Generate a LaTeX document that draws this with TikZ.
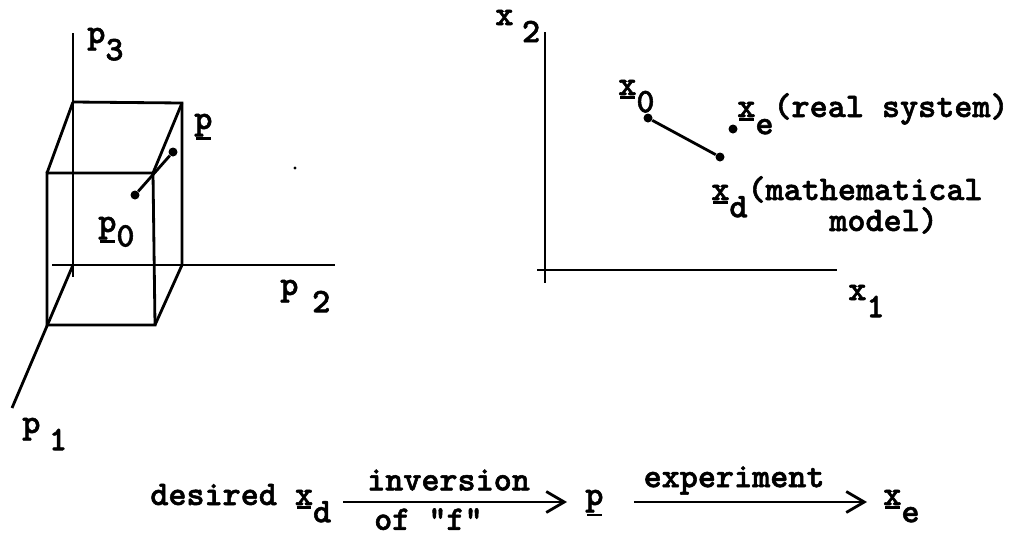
\documentclass[tikz,border=0pt]{standalone}
\usepackage{fontspec}
\newfontfamily\typewr{lmmonolt10-bold.otf}[FakeBold=1.6]
\usetikzlibrary{arrows.meta}
% underlined vector letter and typewriter style lowered index
\newcommand{\uvec}[1]{\setbox0\hbox{#1}\rlap{\kern0.05em\rule[\dimexpr-\dp0-2pt\relax]{\dimexpr\wd0-0.1em\relax}{1.4pt}}\box0}
\newcommand{\lowsub}[2][0.5em]{\raisebox{-#1}{#2}}
\tikzset{
  ax/.style={line width=1.6pt},
  edge/.style={line width=1.6pt},
  dot/.style={circle,fill,inner sep=0pt,minimum size=0.18cm},
  lbl/.style={font=\fontsize{19.6}{23}\typewr,inner sep=0pt,anchor=base west},
  albl/.style={font=\fontsize{19.6}{23}\typewr,inner sep=0.2cm},
  arr/.style={-{Straight Barb[length=0.36cm,width=0.42cm]},line width=1.6pt},
}
\begin{document}
\begin{tikzpicture}[x=0.02cm,y=-0.02cm]
  \useasboundingbox (0,0) rectangle (1021,538);
  % parameter space with the box
  \coordinate (o) at (73,265);
  \coordinate (b1) at (73,102);
  \coordinate (b2) at (182,103);
  \coordinate (b3) at (182,265);
  \coordinate (f1) at (47,173);
  \coordinate (f2) at (153,173);
  \coordinate (f3) at (155,325);
  \coordinate (f4) at (47,325);
  \draw[ax] (73,33) -- (73,277);
  \draw[ax] (52,265) -- (335,265);
  \draw[ax] (o) -- (12,408);
  \draw[edge] (b1) -- (b2) -- (b3);
  \draw[edge] (f1) -- (f2) -- (f3) -- (f4) -- cycle;
  \draw[edge] (b1) -- (f1) (b2) -- (f2) (b3) -- (f3);
  \node[dot] (p0) at (135,195) {};
  \node[dot] (p) at (173,152) {};
  \draw[edge] (p0) -- (p);
  \fill (295,168) circle (1.6);

  \node[lbl] (lp3) at (87,43) {p\lowsub{3}};
  \node[lbl] (lp) at (194,129) {\uvec{p}};
  \node[lbl] (lp0) at (98,232) {\uvec{p}\lowsub[0.42em]{0}};
  \node[lbl] (lp2) at (280,295) {p\hspace{0.4em}\lowsub{2}};
  \node[lbl] (lp1) at (22,433) {p\hspace{0.25em}\lowsub{1}};

  % output space
  \draw[ax] (545,32) -- (545,283);
  \draw[ax] (537,270) -- (837,270);
  \node[dot] (x0) at (648,118) {};
  \node[dot] (xd) at (720,157) {};
  \node[dot] (xe) at (733,129) {};
  \draw[edge] (x0) -- (xd);

  \node[lbl] (lx2) at (495,25) {x\hspace{0.25em}\lowsub{2}};
  \node[lbl] (lx1) at (848,300) {x\lowsub{1}};
  \node[lbl] (lx0) at (618,95) {\uvec{x}\lowsub{0}};
  \node[lbl] (lxe) at (737,117) {\uvec{x}\lowsub{e}(real system)};
  \node[lbl] (lxd) at (711,200) {\uvec{x}\lowsub{d}(mathematical};
  \node[lbl] (lmod) at (829,231) {model)};

  % inversion and experiment
  \node[lbl] (desired) at (150,505) {desired \uvec{x}\lowsub{d}};
  \node[lbl] (pvec) at (585,505) {\uvec{p}};
  \node[lbl] (xend) at (883,505) {\uvec{x}\lowsub{e}};
  \draw[arr] ([shift={(12,-3)}]desired.base east) --
    node[albl,above,pos=0.47] (inv) {inversion}
    node[albl,below,pos=0.38,inner sep=0.1cm] (off) {of \textquotedbl f\textquotedbl}
    ([shift={(-18,-3)}]pvec.base west);
  \draw[arr] ([shift={(30,-3)}]pvec.base east) --
    node[albl,above,pos=0.43,inner sep=0.12cm] (exp) {experiment}
    ([shift={(-16,-3)}]xend.base west);
\end{tikzpicture}
\end{document}
